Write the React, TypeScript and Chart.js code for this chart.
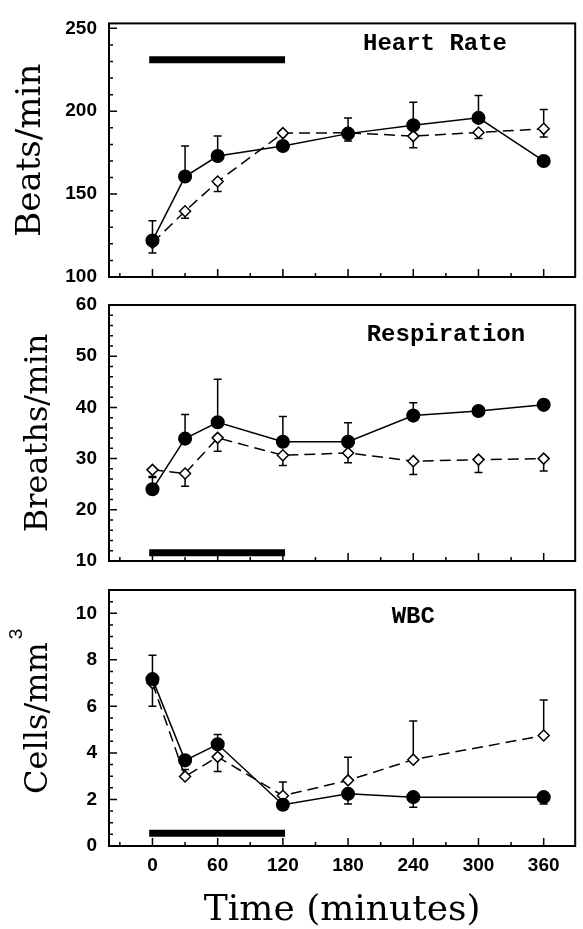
import React, { useEffect, useRef } from "react";
import { Chart, registerables } from "chart.js";

Chart.register(...registerables);

// ---------- data ----------
const TIMES = [0, 30, 60, 120, 180, 240, 300, 360];
const X_TICKS = [0, 60, 120, 180, 240, 300, 360];
const X_TITLE = "Time (minutes)";
const TREATMENT_SPAN = [-3, 122]; // minutes covered by the black bar

// Heart rate
const HR_TICKS = [100, 150, 200, 250];
const HR_FILLED = [122, 160.6, 173, 179, 186.5, 191.5, 196, 170];
const HR_FILLED_UP = [12, 18.4, 12, 0, 9.5, 14, 13.5, 0];
const HR_FILLED_DOWN = [0, 0, 0, 0, 0, 0, 0, 0];
const HR_OPEN = [120.5, 139.7, 157.6, 186.8, 187, 185, 187.2, 189.4];
const HR_OPEN_UP = [0, 0, 0, 0, 0, 0, 0, 11.6];
const HR_OPEN_DOWN = [6, 4.3, 6, 0, 5, 7, 3.7, 5];
const HR_BAR = 231;

// Respiration
const RESP_TICKS = [10, 20, 30, 40, 50, 60];
const RESP_FILLED = [24, 33.9, 37.1, 33.3, 33.3, 38.4, 39.3, 40.5];
const RESP_FILLED_UP = [2.5, 4.7, 8.4, 4.9, 3.7, 2.5, 0.8, 0];
const RESP_FILLED_DOWN = [0, 0, 0, 0, 0, 0, 0, 0];
const RESP_OPEN = [27.8, 27.1, 34.05, 30.65, 31.1, 29.5, 29.8, 30];
const RESP_OPEN_UP = [0, 0, 0, 0, 0, 0, 0, 0];
const RESP_OPEN_DOWN = [1.5, 2.5, 2.6, 2, 1.9, 2.6, 2.5, 2.4];
const RESP_BAR = 11.6;

// WBC
const WBC_TICKS = [0, 2, 4, 6, 8, 10];
const WBC_FILLED = [7.17, 3.68, 4.37, 1.77, 2.24, 2.1, null, 2.1];
const WBC_FILLED_UP = [1.03, 0, 0.42, 0, 0, 0, 0, 0];
const WBC_FILLED_DOWN = [0, 0, 0, 0, 0.44, 0.43, 0, 0.3];
const WBC_OPEN = [7.0, 2.99, 3.83, 2.16, 2.82, 3.71, null, 4.75];
const WBC_OPEN_UP = [0, 0.3, 0, 0.59, 0.99, 1.66, 0, 1.52];
const WBC_OPEN_DOWN = [1.0, 0, 0.63, 0, 0, 0, 0, 0];
const WBC_BAR = 0.55;

// ---------- layout ----------
const W = 583;
const H = 929;
const PLOT_LEFT = 109;
const PLOT_RIGHT = 578;
const X_MIN = -40;
const X_MAX = 389;

type Panel = {
  top: number;
  bottom: number;
  yMin: number;
  yMax: number;
  ticks: number[];
  yMinor: number;
  yMajor: number;
  title: string;
  titleSize: number;
  titlePad: number;
  label: string;
  labelX: number;
  labelY: number;
  filled: (number | null)[];
  filledUp: number[];
  filledDown: number[];
  open: (number | null)[];
  openUp: number[];
  openDown: number[];
  bar: number;
  showX: boolean;
  superscript?: string;
};

const PANELS: Panel[] = [
  {
    top: 20, bottom: 277, yMin: 100, yMax: 253, ticks: HR_TICKS, yMinor: 10, yMajor: 50,
    title: "Beats/min", titleSize: 34, titlePad: 14, label: "Heart Rate", labelX: 260, labelY: 237,
    filled: HR_FILLED, filledUp: HR_FILLED_UP, filledDown: HR_FILLED_DOWN,
    open: HR_OPEN, openUp: HR_OPEN_UP, openDown: HR_OPEN_DOWN, bar: HR_BAR, showX: false,
  },
  {
    top: 305, bottom: 561, yMin: 10, yMax: 60, ticks: RESP_TICKS, yMinor: 2, yMajor: 10,
    title: "Breaths/min", titleSize: 32, titlePad: 23, label: "Respiration", labelX: 270, labelY: 53,
    filled: RESP_FILLED, filledUp: RESP_FILLED_UP, filledDown: RESP_FILLED_DOWN,
    open: RESP_OPEN, openUp: RESP_OPEN_UP, openDown: RESP_OPEN_DOWN, bar: RESP_BAR, showX: false,
  },
  {
    top: 590, bottom: 846, yMin: 0, yMax: 11, ticks: WBC_TICKS, yMinor: 0.5, yMajor: 2,
    title: "Cells/mm", titleSize: 32, titlePad: 23, label: "WBC", labelX: 240, labelY: 9.58,
    filled: WBC_FILLED, filledUp: WBC_FILLED_UP, filledDown: WBC_FILLED_DOWN,
    open: WBC_OPEN, openUp: WBC_OPEN_UP, openDown: WBC_OPEN_DOWN, bar: WBC_BAR, showX: true,
    superscript: "3",
  },
];

const TICK_FONT = { family: "'Liberation Sans', Arial, sans-serif", size: 19, weight: "bold" as const };
const TITLE_FAMILY = "'DejaVu Serif', serif";

function pts(vals: (number | null)[]) {
  return TIMES.map((t, i) => ({ x: t, y: vals[i] }));
}

const panelPlugin = {
  id: "panelDecor",
  beforeDatasetsDraw(chart: any, _a: any, opts: any) {
    const p: Panel = opts.panel;
    const { ctx, scales } = chart;
    const xs = scales.x;
    const ys = scales.y;
    ctx.save();
    ctx.strokeStyle = "#000";
    ctx.lineWidth = 1.5;
    const drawErr = (vals: (number | null)[], up: number[], down: number[]) => {
      vals.forEach((v, i) => {
        if (v == null) return;
        const px = xs.getPixelForValue(TIMES[i]);
        const py = ys.getPixelForValue(v);
        const ends: number[] = [];
        if (up[i] > 0) ends.push(v + up[i]);
        if (down[i] > 0) ends.push(v - down[i]);
        ends.forEach((e) => {
          const ey = ys.getPixelForValue(e);
          ctx.beginPath();
          ctx.moveTo(px, py);
          ctx.lineTo(px, ey);
          ctx.moveTo(px - 4, ey);
          ctx.lineTo(px + 4, ey);
          ctx.stroke();
        });
      });
    };
    drawErr(p.filled, p.filledUp, p.filledDown);
    drawErr(p.open, p.openUp, p.openDown);
    ctx.restore();
  },
  afterDraw(chart: any, _a: any, opts: any) {
    const p: Panel = opts.panel;
    const { ctx, chartArea: a, scales } = chart;
    const xs = scales.x;
    const ys = scales.y;
    ctx.save();
    ctx.strokeStyle = "#000";
    ctx.lineWidth = 2;
    ctx.strokeRect(a.left, a.top, a.right - a.left, a.bottom - a.top);
    ctx.lineWidth = 1.5;
    ctx.beginPath();
    for (let v = -30; v <= 360; v += 30) {
      const px = xs.getPixelForValue(v);
      const len = v % 60 === 0 ? 8 : 4;
      ctx.moveTo(px, a.bottom);
      ctx.lineTo(px, a.bottom - len);
    }
    const n = Math.round((p.yMax - p.yMin) / p.yMinor);
    for (let k = 1; k <= n; k++) {
      const v = p.yMin + k * p.yMinor;
      if (v > p.yMax) break;
      const py = ys.getPixelForValue(v);
      const isMajor = Math.abs(v / p.yMajor - Math.round(v / p.yMajor)) < 1e-6;
      ctx.moveTo(a.left, py);
      ctx.lineTo(a.left + (isMajor ? 8 : 4), py);
    }
    ctx.stroke();
    // panel label
    ctx.fillStyle = "#000";
    ctx.font = "bold 24px 'Liberation Mono', monospace";
    ctx.textAlign = "center";
    ctx.textBaseline = "alphabetic";
    ctx.fillText(p.label, xs.getPixelForValue(p.labelX), ys.getPixelForValue(p.labelY));
    if (p.superscript) {
      ctx.translate(17, 634);
      ctx.rotate(-Math.PI / 2);
      ctx.font = "19px 'Liberation Sans', Arial, sans-serif";
      ctx.textBaseline = "middle";
      ctx.fillText(p.superscript, 0, 0);
    }
    ctx.restore();
  },
};

function makeConfig(p: Panel): any {
  return {
    type: "line",
    data: {
      datasets: [
        {
          data: pts(p.filled),
          borderColor: "#000",
          borderWidth: 1.5,
          backgroundColor: "#000",
          pointBackgroundColor: "#000",
          pointBorderColor: "#000",
          pointRadius: 6.3,
          pointStyle: "circle",
          spanGaps: true,
          tension: 0,
        },
        {
          data: pts(p.open),
          borderColor: "#000",
          borderWidth: 1.5,
          borderDash: [11, 6],
          pointBackgroundColor: "#fff",
          pointBorderColor: "#000",
          pointBorderWidth: 1.5,
          pointRadius: 5.5,
          pointStyle: "rectRot",
          spanGaps: true,
          tension: 0,
        },
        {
          data: TREATMENT_SPAN.map((t) => ({ x: t, y: p.bar })),
          borderColor: "#000",
          borderWidth: 7,
          borderCapStyle: "butt",
          pointRadius: 0,
        },
      ],
    },
    options: {
      responsive: false,
      animation: false,
      devicePixelRatio: 1,
      events: [],
      layout: {
        padding: {
          left: 0,
          right: W - PLOT_RIGHT,
          top: p.top,
          bottom: p.showX ? 0 : H - p.bottom,
        },
      },
      plugins: {
        legend: { display: false },
        tooltip: { enabled: false },
        panelDecor: { panel: p },
      },
      scales: {
        x: {
          type: "linear",
          min: X_MIN,
          max: X_MAX,
          display: p.showX,
          grid: { display: false, drawTicks: false },
          border: { display: false },
          ticks: { font: TICK_FONT, color: "#000", padding: 8, maxRotation: 0, autoSkip: false },
          afterBuildTicks: (s: any) => {
            s.ticks = X_TICKS.map((v) => ({ value: v }));
          },
          afterFit: p.showX
            ? (s: any) => {
                s.height = H - p.bottom;
              }
            : undefined,
          title: {
            display: p.showX,
            text: X_TITLE,
            color: "#000",
            font: { family: TITLE_FAMILY, size: 36, lineHeight: 1 },
            padding: { top: 0, bottom: 0 },
          },
        },
        y: {
          type: "linear",
          min: p.yMin,
          max: p.yMax,
          grid: { display: false, drawTicks: false },
          border: { display: false },
          ticks: { font: TICK_FONT, color: "#000", padding: 12 },
          afterBuildTicks: (s: any) => {
            s.ticks = p.ticks.map((v) => ({ value: v }));
          },
          afterFit: (s: any) => {
            s.width = PLOT_LEFT;
          },
          title: {
            display: true,
            text: p.title,
            color: "#000",
            font: { family: TITLE_FAMILY, size: p.titleSize, lineHeight: 1 },
            padding: { top: p.titlePad, bottom: 0 },
          },
        },
      },
    },
    plugins: [panelPlugin],
  };
}

function PanelCanvas({ panel }: { panel: Panel }) {
  const ref = useRef<HTMLCanvasElement | null>(null);
  useEffect(() => {
    if (!ref.current) return;
    const chart = new Chart(ref.current, makeConfig(panel));
    return () => chart.destroy();
  }, [panel]);
  return (
    <canvas
      ref={ref}
      width={W}
      height={H}
      style={{ position: "absolute", left: 0, top: 0, width: W, height: H }}
    />
  );
}

export default function App() {
  return (
    <div
      style={{
        position: "absolute",
        left: 0,
        top: 0,
        width: W,
        height: H,
        background: "#fff",
        overflow: "hidden",
      }}
    >
      {PANELS.map((p, i) => (
        <PanelCanvas key={i} panel={p} />
      ))}
    </div>
  );
}
